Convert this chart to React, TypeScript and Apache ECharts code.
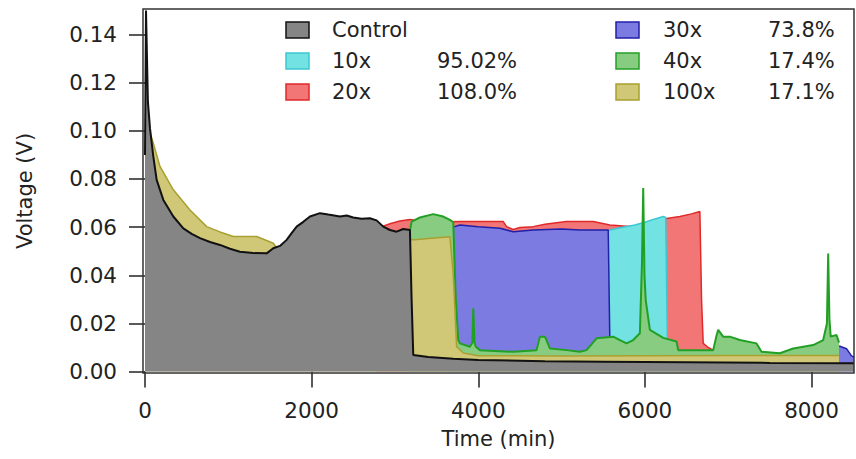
import React, { useEffect, useRef } from "react";
import * as echarts from "echarts";

// ---- data (time in min, voltage in V) ----
const controlData: number[][] = [
  [0, 0.09], [12, 0.15], [35, 0.112], [60, 0.101], [100, 0.0893], [140, 0.0796],
  [220, 0.0713], [340, 0.0644], [460, 0.0595], [560, 0.0572], [660, 0.0554],
  [780, 0.0538], [900, 0.0526], [1020, 0.051], [1140, 0.0498], [1300, 0.0492],
  [1460, 0.0491], [1540, 0.0512], [1620, 0.0522], [1700, 0.0547], [1760, 0.0575],
  [1820, 0.0602], [1900, 0.0622], [1980, 0.0644], [2100, 0.0658], [2200, 0.0652],
  [2340, 0.0644], [2420, 0.0648], [2500, 0.064], [2600, 0.0635], [2700, 0.0637],
  [2780, 0.0628], [2860, 0.0602], [2940, 0.0588], [3020, 0.0581], [3100, 0.0592],
  [3180, 0.0588], [3200, 0.03], [3220, 0.0069], [3400, 0.006], [3700, 0.0053],
  [4000, 0.0048], [4800, 0.0043], [5500, 0.0041], [6500, 0.0039], [7500, 0.0036],
  [8510, 0.0034],
];
const x10Data: number[][] = [
  [5500, 0.058], [5580, 0.0588], [5700, 0.0597], [5880, 0.0609], [6000, 0.062],
  [6100, 0.0632], [6220, 0.0644], [6250, 0.064], [6270, 0.012], [6380, 0.011],
];
const x20Data: number[][] = [
  [2780, 0.06], [2840, 0.0602], [2950, 0.0615], [3060, 0.0625], [3180, 0.0632],
  [3400, 0.062], [3780, 0.0623], [4060, 0.0623], [4300, 0.0623], [4340, 0.0602],
  [4420, 0.059], [4500, 0.0598], [4660, 0.0602], [4800, 0.0612], [5060, 0.0623],
  [5380, 0.0623], [5580, 0.0609], [5860, 0.0602], [6000, 0.0615], [6250, 0.0635],
  [6280, 0.0637], [6420, 0.0644], [6560, 0.0655], [6660, 0.0665], [6680, 0.03],
  [6700, 0.0117], [6760, 0.01], [6820, 0.0089],
];
const x30Data: number[][] = [
  [3700, 0.06], [3780, 0.0609], [4000, 0.0602], [4260, 0.0595], [4420, 0.0581],
  [4660, 0.0588], [5000, 0.0592], [5220, 0.0588], [5560, 0.0588], [5580, 0.011],
  [6400, 0.0085], [7400, 0.0072], [8000, 0.008], [8300, 0.0105], [8340, 0.0105],
  [8420, 0.0095], [8480, 0.0065], [8510, 0.006],
];
const x40Data: number[][] = [
  [3180, 0.0585], [3200, 0.0623], [3300, 0.064], [3460, 0.0654], [3580, 0.0644],
  [3660, 0.063], [3700, 0.062], [3730, 0.03], [3760, 0.0131], [3780, 0.0117],
  [3900, 0.0103], [3930, 0.012], [3940, 0.0263], [3955, 0.012], [3970, 0.0103],
  [4020, 0.0089], [4420, 0.0082], [4700, 0.0089], [4740, 0.0145], [4800, 0.0145],
  [4860, 0.0096], [5060, 0.0089], [5220, 0.0082], [5300, 0.0089], [5420, 0.0138],
  [5620, 0.0145], [5700, 0.0131], [5780, 0.0117], [5860, 0.0131], [5940, 0.0159],
  [5965, 0.045], [5980, 0.0762], [5995, 0.04], [6010, 0.0297], [6060, 0.0173],
  [6220, 0.014], [6380, 0.0125], [6400, 0.0089], [6660, 0.0089], [6820, 0.0089],
  [6860, 0.015], [6880, 0.0173], [6940, 0.0145], [7020, 0.0145], [7140, 0.0131],
  [7340, 0.0117], [7400, 0.0082], [7620, 0.0076], [7780, 0.0096], [8020, 0.011],
  [8140, 0.0131], [8185, 0.02], [8200, 0.049], [8215, 0.022], [8230, 0.0145],
  [8300, 0.0152], [8330, 0.012],
];
const x100Data: number[][] = [
  [0, 0.105], [60, 0.099], [100, 0.0949], [180, 0.0852], [340, 0.0755],
  [540, 0.0671], [740, 0.0602], [900, 0.058], [1060, 0.0561], [1340, 0.0561],
  [1540, 0.0533], [1600, 0.0505], [1800, 0.055], [2100, 0.058], [2700, 0.057],
  [3180, 0.0548], [3240, 0.0547], [3400, 0.0553], [3660, 0.056], [3700, 0.04],
  [3740, 0.0103], [3820, 0.0077], [4000, 0.0066], [5000, 0.0065], [6000, 0.0066],
  [7000, 0.0067], [8000, 0.0067], [8330, 0.0067],
];

const xTicks = [0, 2000, 4000, 6000, 8000];
const yTicks = [0, 0.02, 0.04, 0.06, 0.08, 0.1, 0.12, 0.14];

const legendNames = ["Control", "10x", "20x", "30x", "40x", "100x"];
const legendPct = ["", "95.02%", "108.0%", "73.8%", "17.4%", "17.1%"];

// ---- styles ----
const FONT = "DejaVu Sans";
const styles: Record<string, { fill: string; line: string; width: number }> = {
  Control: { fill: "#858585", line: "#111111", width: 2 },
  "10x": { fill: "#72e2e2", line: "#3cc8d2", width: 1.5 },
  "20x": { fill: "#f27676", line: "#e02a2a", width: 1.5 },
  "30x": { fill: "#7b7be2", line: "#2020a8", width: 1.5 },
  "40x": { fill: "#88cc82", line: "#22a024", width: 2 },
  "100x": { fill: "#d0c876", line: "#a8a030", width: 1.5 },
};

export default function App() {
  const ref = useRef<HTMLDivElement>(null);
  useEffect(() => {
    if (!ref.current) return;
    const chart = echarts.init(ref.current, undefined, { renderer: "svg" });

    const mk = (name: string, data: number[][], z: number) => ({
      name,
      type: "line",
      data,
      z,
      showSymbol: false,
      symbol: "none",
      lineStyle: { color: styles[name].line, width: styles[name].width },
      areaStyle: { color: styles[name].fill, opacity: 1, origin: 0 },
      itemStyle: { color: styles[name].fill },
      silent: true,
    });

    // legend graphic
    const rowY = [30, 61, 92];
    const cols = [
      { sw: 286, name: 332, pct: 437 },
      { sw: 616, name: 663, pct: 768 },
    ];
    const legendEls: any[] = [];
    legendNames.forEach((n, i) => {
      const c = cols[Math.floor(i / 3)];
      const y = rowY[i % 3];
      legendEls.push({
        type: "rect",
        shape: { x: c.sw, y: y - 8, width: 23, height: 16 },
        style: { fill: styles[n].fill, stroke: styles[n].line, lineWidth: 1.5 },
      });
      legendEls.push({
        type: "text",
        x: c.name,
        y,
        style: { text: n, font: `21px '${FONT}'`, fill: "#222", verticalAlign: "middle" },
      });
      if (legendPct[i]) {
        legendEls.push({
          type: "text",
          x: c.pct,
          y,
          style: { text: legendPct[i], font: `21px '${FONT}'`, fill: "#222", verticalAlign: "middle" },
        });
      }
    });

    chart.setOption({
      animation: false,
      backgroundColor: "#ffffff",
      textStyle: { fontFamily: FONT },
      grid: {
        left: 143,
        right: 2,
        top: 9,
        bottom: 86,
        show: true,
        borderColor: "#333",
        borderWidth: 1.5,
        backgroundColor: "transparent",
        z: 20,
      },
      xAxis: {
        type: "value",
        min: -24,
        max: 8510,
        name: "Time (min)",
        nameLocation: "middle",
        nameGap: 55,
        nameTextStyle: { fontSize: 21, color: "#222", fontFamily: FONT },
        axisLine: { show: false },
        splitLine: { show: false },
        axisTick: {
          show: true,
          inside: false,
          length: 16,
          customValues: xTicks,
          lineStyle: { color: "#222", width: 1.5 },
        },
        axisLabel: {
          customValues: xTicks,
          margin: 26,
          fontSize: 21.5,
          color: "#222",
          fontFamily: FONT,
          formatter: (v: number) => String(Math.round(v)),
        },
      },
      yAxis: {
        type: "value",
        min: -0.0006,
        max: 0.1506,
        name: "Voltage (V)",
        nameLocation: "middle",
        nameGap: 108,
        nameRotate: 90,
        nameTextStyle: { fontSize: 21, color: "#222", fontFamily: FONT },
        axisLine: { show: false },
        splitLine: { show: false },
        axisTick: {
          show: true,
          inside: false,
          length: 16,
          customValues: yTicks,
          lineStyle: { color: "#222", width: 1.5 },
        },
        axisLabel: {
          customValues: yTicks,
          margin: 26,
          fontSize: 21.5,
          color: "#222",
          fontFamily: FONT,
          formatter: (v: number) => v.toFixed(2),
        },
      },
      series: [
        mk("20x", x20Data, 2),
        mk("10x", x10Data, 3),
        mk("30x", x30Data, 4),
        mk("40x", x40Data, 5),
        mk("100x", x100Data, 6),
        mk("Control", controlData, 7),
      ],
      graphic: legendEls,
    });

    return () => chart.dispose();
  }, []);

  return (
    <div
      ref={ref}
      style={{ position: "fixed", left: 0, top: 0, width: 856, height: 459, background: "#fff" }}
    />
  );
}
